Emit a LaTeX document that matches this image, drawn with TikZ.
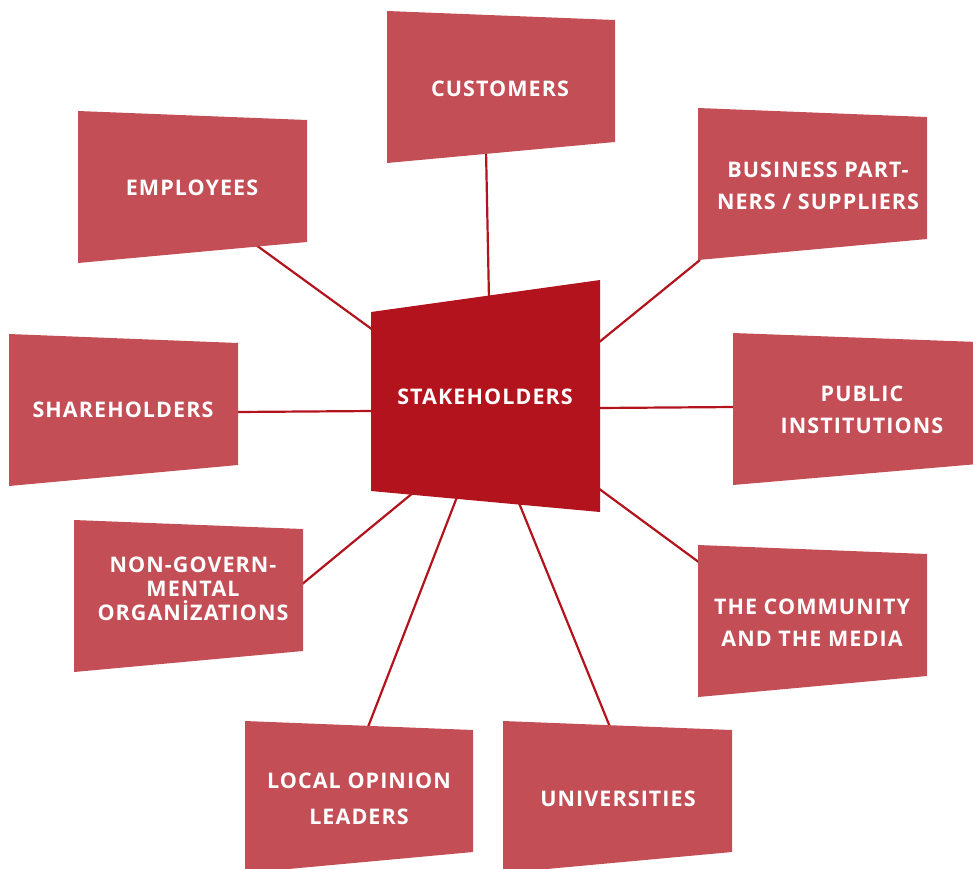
\documentclass[tikz,border=0pt]{standalone}
\usepackage{fontspec}
\setmainfont{Open Sans}[LetterSpace=5]
\usetikzlibrary{calc}

\definecolor{boxred}{RGB}{196,78,85}
\definecolor{hubred}{RGB}{178,19,29}

% skewed box from its top left corner and its width
\newcommand{\stkbox}[3]{%
  \fill[boxred] (#1,#2) -- ++(#3,9) -- ++(0,122) -- ++(-#3,21) -- cycle;}

\begin{document}
\begin{tikzpicture}[x=1pt, y=-1pt,
    link/.style={draw=hubred, line width=2.2pt},
    lbl/.style={text=white, align=center, inner sep=0pt,
      font=\bfseries\fontsize{21.5}{32}\selectfont}]
        \useasboundingbox (0,0) rectangle (973,868);

        % connector ends
        \coordinate (cust-a) at (486,150);  \coordinate (cust-b) at (489,300);
        \coordinate (busi-a) at (700,260);  \coordinate (busi-b) at (598,343);
        \coordinate (emp-a) at (256,245);   \coordinate (emp-b) at (373,330);
        \coordinate (share-a) at (236,412); \coordinate (share-b) at (373,411);
        \coordinate (pub-a) at (735,407);   \coordinate (pub-b) at (598,408);
        \coordinate (comm-a) at (700,563);  \coordinate (comm-b) at (598,488);
        \coordinate (ngo-a) at (301,585);   \coordinate (ngo-b) at (414,492);
        \coordinate (loc-a) at (368,727);   \coordinate (loc-b) at (457,497);
        \coordinate (uni-a) at (610,727);   \coordinate (uni-b) at (519,503);

        \path[link]
        (cust-a) edge (cust-b)
        (busi-a) edge (busi-b)
        (emp-a) edge (emp-b)
        (share-a) edge (share-b)
        (pub-a) edge (pub-b)
        (comm-a) edge (comm-b)
        (ngo-a) edge (ngo-b)
        (loc-a) edge (loc-b)
        (uni-a) edge (uni-b);

        % boxes
        \stkbox{387}{11}{228}
        \stkbox{698}{108}{229}
        \stkbox{78}{111}{229}
        \stkbox{9}{334}{229}
        \stkbox{733}{333}{245}
        \stkbox{74}{520}{229}
        \stkbox{698}{545}{229}
        \stkbox{245}{721}{228}
        \stkbox{503}{721}{229}
        \fill[hubred] (371,312) -- (600,280) -- (600,512) -- (371,491) -- cycle;

        % labels
        \node[lbl] (hub) at (485,397) {STAKEHOLDERS};
        \node[lbl] (cust) at (500,89) {CUSTOMERS};
        \node[lbl] (busi) at (818,186) {BUSINESS PART-\\NERS / SUPPLIERS};
        \node[lbl] (emp) at (192,188) {EMPLOYEES};
        \node[lbl] (share) at (123,410) {SHAREHOLDERS};
        \node[lbl] (pub) at (862,410) {PUBLIC\\INSTITUTIONS};
        \node[lbl, font=\bfseries\fontsize{21.5}{24}\selectfont] (ngo) at (193,589) {NON-GOVERN-\\MENTAL\\ORGANİZATIONS};
        \node[lbl] (comm) at (812,623) {THE COMMUNITY\\AND THE MEDIA};
        \node[lbl, font=\bfseries\fontsize{21.5}{36}\selectfont] (loc) at (359,799) {LOCAL OPINION\\LEADERS};
        \node[lbl] (uni) at (618,799) {UNIVERSITIES};
      \end{tikzpicture}
\end{document}
